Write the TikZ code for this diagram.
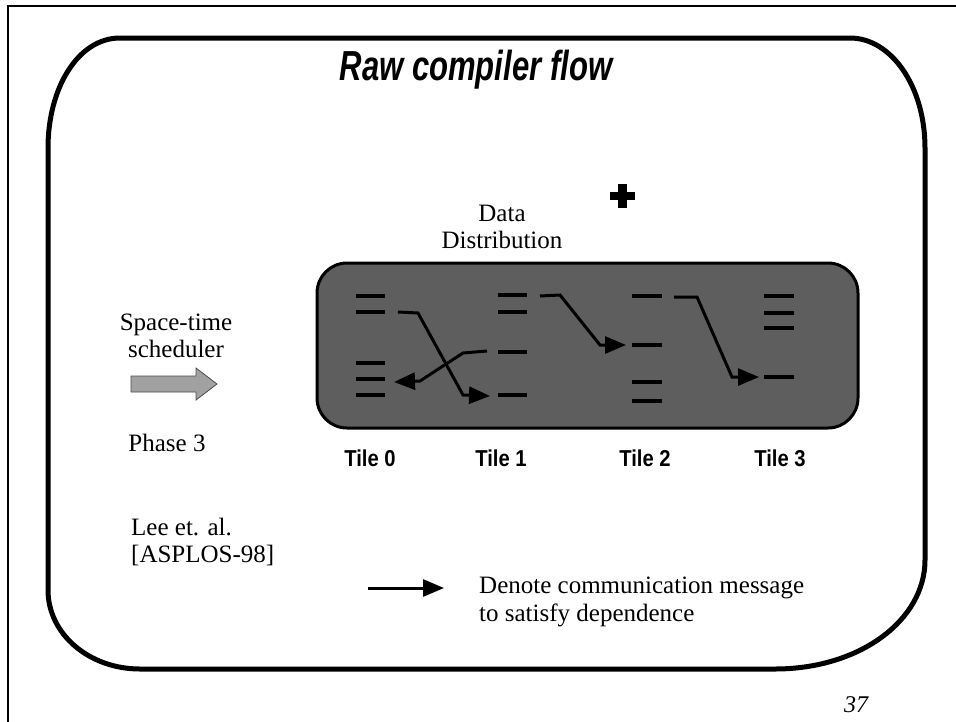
\documentclass[tikz,border=0pt]{standalone}
\usepackage{fontspec}
\setmainfont{Liberation Serif}
\newfontfamily\arial{Liberation Sans}
\newfontfamily\arialn[FakeStretch=0.74]{Liberation Sans}
\newfontfamily\arialt[FakeStretch=0.88]{Liberation Sans}
\usetikzlibrary{arrows.meta}
\begin{document}
\begin{tikzpicture}[x=1pt,y=-1pt,
  txt/.style={font=\fontsize{25}{27.5}\selectfont, align=center, inner sep=0pt},
  tilelab/.style={font=\arialt\bfseries\fontsize{23}{26}\selectfont, inner sep=0pt},
  tick/.style={line width=4pt},
  msg/.style={line width=3pt, -{Triangle[length=21pt,width=17pt]}},
]
\useasboundingbox (0,0) rectangle (956,721);
% outer slide frame (only top and left visible)
\draw[line width=2pt] (8,730) coordinate (fbl) -- (8,6) coordinate (ftl) -- (970,6) coordinate (ftr);
% big rounded frame
\draw[line width=5pt]
  (48,148) .. controls (48,88) and (78,38) .. (120,38)
  -- (850,38) .. controls (891,38) and (925,86) .. (925,148)
  -- (925,560) .. controls (925,620) and (860,669) .. (775,669)
  -- (140,669) .. controls (89,669) and (48,634) .. (48,590) -- cycle;
% title
\node[font=\arialn\bfseries\itshape\fontsize{42}{46}\selectfont, inner sep=0pt] (title) at (476,70) {Raw compiler flow};
% Data distribution
\node[txt] (data) at (502,227) {Data\\Distribution};
\fill (618,184) rectangle (627,208);
\fill (610,192) rectangle (635,200);
\coordinate (plus) at (622,196);
% left texts
\node[txt] (sched) at (176,336) {Space-time\\scheduler};
\draw[fill=black!37, draw=black!70, line width=0.8pt]
  (131,376) -- (196,376) -- (196,368) -- (217,384) -- (196,400) -- (196,392) -- (131,392) -- cycle;
\coordinate (garrow) at (174,384);
\node[txt] (phase) at (167,443) {Phase 3};
\node[txt, align=left, anchor=west] (lee) at (131,542) {Lee et. al.\\{[}ASPLOS-98{]}};
% tile box
\draw[fill=black!63, line width=3pt, rounded corners=30pt] (317,263) rectangle (858,428);
% tile 0 ticks
\foreach \y in {296,312,363,379,395} \draw[tick] (356,\y) -- (385,\y);
% tile 1 ticks
\foreach \y in {295,312,352,395} \draw[tick] (498,\y) -- (527,\y);
% tile 2 ticks
\foreach \y in {296,345,382,401} \draw[tick] (632,\y) -- (662,\y);
% tile 3 ticks
\foreach \y in {296,313,328,377} \draw[tick] (764,\y) -- (794,\y);
% message endpoints
\coordinate (s01) at (398,312); \coordinate (t01) at (490,396);
\coordinate (s10) at (487,351); \coordinate (t10) at (394,382);
\coordinate (s12) at (540,296); \coordinate (t12) at (626,345);
\coordinate (s23) at (674,297); \coordinate (t23) at (759,377);
\draw[msg] (s01) -- (418,313) -- (463,395) -- (t01);
\draw[msg] (s10) -- (463,353) -- (420,381) -- (t10);
\draw[msg] (s12) -- (560,295) -- (600,345) -- (t12);
\draw[msg] (s23) -- (697,297) -- (732,377) -- (t23);
% tile labels
\node[tilelab] (tl0) at (370,458) {Tile 0};
\node[tilelab] (tl1) at (501,458) {Tile 1};
\node[tilelab] (tl2) at (645,458) {Tile 2};
\node[tilelab] (tl3) at (780,458) {Tile 3};
% legend
\coordinate (la) at (368,588);
\coordinate (lb) at (444,588);
\draw[msg] (la) -- (lb);
\node[txt, align=left, anchor=west] (legend) at (479,602) {Denote communication message\\to satisfy dependence};
% page number
\node[font=\itshape\fontsize{24}{27}\selectfont, inner sep=0pt] (pg) at (856,705) {37};
\end{tikzpicture}
\end{document}
